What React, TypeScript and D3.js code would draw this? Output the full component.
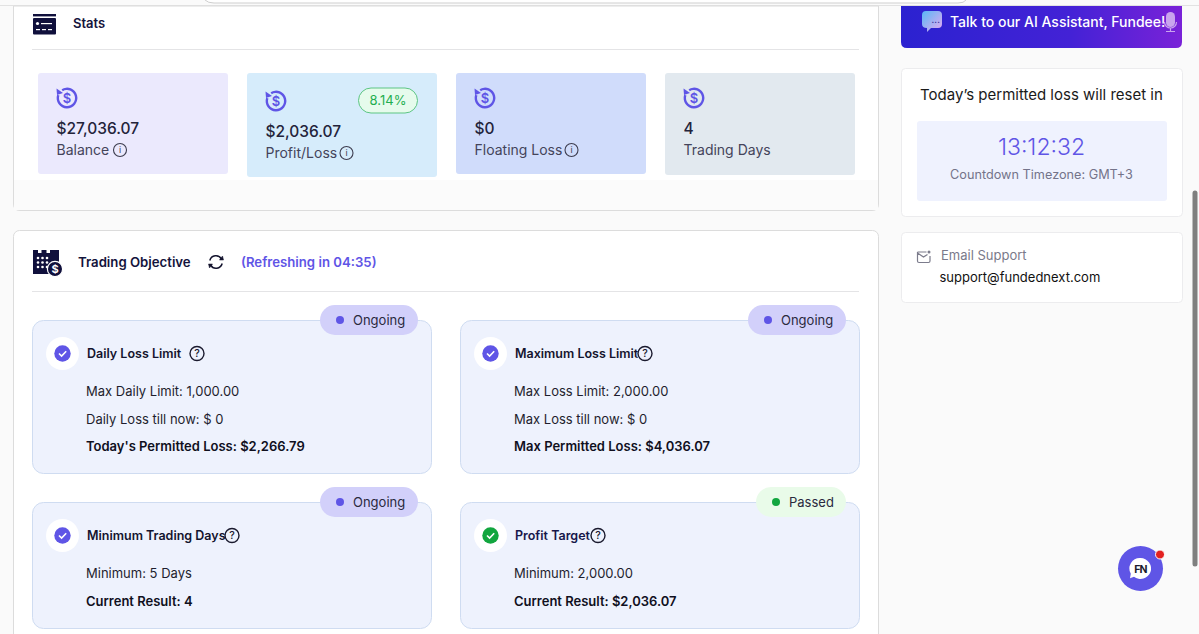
import * as d3 from 'd3'

const FONT = 'Inter, sans-serif'
const INK = '#14143c'
const VIOLET = '#5f55e6'
const GREEN = '#12a63f'

// stat tiles
const statLabels = ['Balance', 'Profit/Loss', 'Floating Loss', 'Trading Days']
const statValues = ['$27,036.07', '$2,036.07', '$0', '4']
const statFills = ['#ebe9fd', '#d6ecfb', '#d0dcfb', '#e2e9ef']
const statHeights = [101, 104, 101, 102]
const statDy = [0, 3, 0, 0]
const statHasInfo = [true, true, true, false]
const profitPct = '8.14%'

// objective cards
const objTitles = ['Daily Loss Limit', 'Maximum Loss Limit', 'Minimum Trading Days', 'Profit Target']
const objStatus = ['Ongoing', 'Ongoing', 'Ongoing', 'Passed']
const objLines = [
  ['Max Daily Limit: 1,000.00', 'Daily Loss till now: $ 0'],
  ['Max Loss Limit: 2,000.00', 'Max Loss till now: $ 0'],
  ['Minimum: 5 Days'],
  ['Minimum: 2,000.00'],
]
const objBold = ["Today's Permitted Loss: $2,266.79", 'Max Permitted Loss: $4,036.07', 'Current Result: 4', 'Current Result: $2,036.07']
const objHeights = [154, 154, 127, 127]

const statX = d3.scalePoint<number>().domain([0, 1, 2, 3]).range([38, 665])
const objX = d3.scalePoint<number>().domain([0, 1]).range([32, 460])
const objY = d3.scalePoint<number>().domain([0, 1]).range([320, 502])

const arc = d3.arc()

function InfoIcon({ x, y, r = 6.5, q = false }: { x: number; y: number; r?: number; q?: boolean }) {
  return (
    <g transform={`translate(${x},${y})`}>
      <circle r={r} fill="none" stroke={q ? '#1a1a2e' : '#3c3c4e'} strokeWidth={q ? 1.4 : 1.1} />
      {q
        ? <text y={3.6} textAnchor="middle" fontSize={10.5} fontWeight={500} fill="#1a1a2e" fontFamily={FONT}>?</text>
        : <text y={3.4} textAnchor="middle" fontSize={9} fill="#3c3c4e" fontFamily={FONT}>i</text>}
    </g>
  )
}

function DollarIcon({ x, y }: { x: number; y: number }) {
  const ring = arc({ innerRadius: 8, outerRadius: 10.4, startAngle: -0.55, endAngle: Math.PI * 2 - 1.25 } as any) as string
  return (
    <g transform={`translate(${x},${y})`}>
      <path d={ring} fill={VIOLET} />
      <path d="M-10.5,-9.5 L-10,-3 L-4,-5 Z" fill={VIOLET} />
      <text y={4.6} textAnchor="middle" fontSize={13} fontWeight={600} fill={VIOLET} fontFamily={FONT}>$</text>
    </g>
  )
}

function StatTile({ i }: { i: number }) {
  const x = statX(i) as number
  const y = 73
  const dy = statDy[i]
  return (
    <g>
      <rect x={x} y={y} width={190} height={statHeights[i]} rx={3} fill={statFills[i]} />
      <DollarIcon x={x + 29} y={y + 25 + dy} />
      <text x={x + 18.5} y={y + 61 + dy} fontSize={15.5} fontWeight={500} fill="#23233a">{statValues[i]}</text>
      <text x={x + 18.5} y={y + 82 + dy} fontSize={14} fill="#44445a">{statLabels[i]}</text>
      {statHasInfo[i] && (
        <InfoIcon x={x + 18.5 + (i === 0 ? 63.5 : i === 1 ? 81 : 97)} y={y + 77 + dy} />
      )}
    </g>
  )
}

function ObjectiveCard({ i }: { i: number }) {
  const x = objX(i % 2) as number
  const y = objY(i < 2 ? 0 : 1) as number
  const passed = objStatus[i] === 'Passed'
  const pillW = passed ? 90 : 98
  const pillX = x + 386 - pillW
  const titleFill = i === 3 ? '#17174a' : '#14142e'
  const titleW = [102, 122, 137, 75][i]
  return (
    <g>
      <rect x={x + 0.5} y={y + 0.5} width={399} height={objHeights[i] - 1} rx={11} fill="#eef2fd" stroke="#cfdcf1" />
      <rect x={pillX} y={y - 15} width={pillW} height={30} rx={15} fill={passed ? '#e9fbe9' : '#d2d0fa'} />
      <circle cx={pillX + 20} cy={y} r={4} fill={passed ? GREEN : VIOLET} />
      <text x={pillX + 33} y={y + 4.7} fontSize={13} fill="#2a2a3e">{objStatus[i]}</text>
      <circle cx={x + 30.5} cy={y + 33.5} r={16.5} fill="#fff" />
      <circle cx={x + 30.5} cy={y + 33.5} r={8.2} fill={passed ? GREEN : VIOLET} />
      <path d={`M${x + 27},${y + 33.5} l2.6,2.6 l4.6,-4.8`} fill="none" stroke="#fff" strokeWidth={1.6} />
      <text x={x + 55} y={y + 38} fontSize={12.5} fontWeight={600} fill={titleFill}>{objTitles[i]}</text>
      <InfoIcon x={x + 55 + titleW + 8} y={y + 33.5} r={7} q />
      {objLines[i].map((t, k) => (
        <text key={t} x={x + 54} y={y + 76 + k * 28} fontSize={13} fill="#1e1e2e">{t}</text>
      ))}
      <text x={x + 54} y={y + 76 + objLines[i].length * 27.5} fontSize={13} fontWeight={600} fill="#10101e">{objBold[i]}</text>
    </g>
  )
}

export default function App() {
  return (
    <svg width={1199} height={634} fontFamily={FONT} style={{ position: 'fixed', left: 0, top: 0, display: 'block', background: '#fafafa' }}>
      <defs>
        <linearGradient id="talk" x1="0" x2="1" y1="0" y2="0">
          <stop offset="0" stopColor="#2b22d0" />
          <stop offset="0.6" stopColor="#4322d6" />
          <stop offset="1" stopColor="#7a22d8" />
        </linearGradient>
        <linearGradient id="bubble" x1="0" x2="1" y1="0" y2="1">
          <stop offset="0" stopColor="#58b8f5" />
          <stop offset="1" stopColor="#e8a8f0" />
        </linearGradient>
      </defs>

      {/* window top edges */}
      <path d="M205,0 Q208,3 214,3 L958,3 Q964,3 966,0" fill="#fff" stroke="#cfcfcf" />
      <line x1={0} x2={1199} y1={5.5} y2={5.5} stroke="#e2e2e2" />

      {/* stats card */}
      <path d="M13.5,6 L13.5,204 Q13.5,210.5 20,210.5 L872,210.5 Q878.5,210.5 878.5,204 L878.5,6 Z" fill="#fff" stroke="#dcdcdc" />
      <rect x={14} y={180} width={864} height={30} fill="#fbfbfb" />
      <g transform="translate(33,14)" fill="#10103c">
        <rect x={0} y={0} width={23} height={2.4} />
        <rect x={0} y={4} width={23} height={16.5} rx={1} />
        <circle cx={4.5} cy={9.5} r={1.6} fill="#fff" />
        <rect x={8} y={9} width={11} height={1.2} fill="#fff" />
        <rect x={3} y={15} width={4} height={1.2} fill="#fff" />
        <rect x={9} y={15} width={4} height={1.2} fill="#fff" />
        <rect x={15} y={15} width={4} height={1.2} fill="#fff" />
      </g>
      <text x={73} y={28} fontSize={13} fontWeight={600} fill={INK}>Stats</text>
      <line x1={32} x2={859} y1={49.5} y2={49.5} stroke="#e4e4e6" />
      {statLabels.map((_, i) => <StatTile key={i} i={i} />)}
      <rect x={358.5} y={88} width={59} height={25} rx={12.5} fill="#e6fbec" stroke="#5cc583" />
      <text x={388} y={105} textAnchor="middle" fontSize={13} fill="#1fae4f">{profitPct}</text>

      {/* trading objective card */}
      <rect x={13.5} y={230.5} width={865} height={420} rx={6} fill="#fff" stroke="#dcdcdc" />
      <g transform="translate(33,250)" fill="#10103c">
        <path d="M0,0 h5 v3 h3.5 v-3 h5 v3 h3.5 v-3 h9 v24 h-26 Z" />
        {[0, 1, 2].map(r => [0, 1, 2].map(c => (
          <circle key={`${r}${c}`} cx={5 + c * 4.5} cy={8 + r * 4.5} r={1.3} fill="#fff" />
        )))}
        <circle cx={22} cy={19} r={7.6} stroke="#fff" strokeWidth={1.2} />
        <text x={22} y={23.2} textAnchor="middle" fontSize={11} fontWeight={700} fill="#fff">$</text>
      </g>
      <text x={78} y={267} fontSize={13.2} fontWeight={600} fill={INK}>Trading Objective</text>
      <g transform="translate(216,262)" fill="none" stroke="#14142e" strokeWidth={1.5}>
        <path d="M-6.2,-1.5 A6.4,6.4 0 0 1 5.5,-3" />
        <path d="M6.2,1.5 A6.4,6.4 0 0 1 -5.5,3" />
        <path d="M3.5,-2 L7.5,-2 L6.5,-6 Z" fill="#14142e" strokeWidth={0.5} />
        <path d="M-3.5,2 L-7.5,2 L-6.5,6 Z" fill="#14142e" strokeWidth={0.5} />
      </g>
      <text x={241} y={267} fontSize={13.2} fontWeight={600} fill={VIOLET}>(Refreshing in 04:35)</text>
      <line x1={32} x2={859} y1={291.5} y2={291.5} stroke="#e4e4e6" />
      {objTitles.map((_, i) => <ObjectiveCard key={i} i={i} />)}

      {/* right column */}
      <path d="M901,6 H1182 V42 Q1182,48 1176,48 H907 Q901,48 901,42 Z" fill="url(#talk)" />
      <path d="M926,11 h12 q4,0 4,4 v9 q0,4 -4,4 h-7 l-4,4 v-4 q-5,0 -5,-4 v-9 q0,-4 4,-4 Z" fill="url(#bubble)" />
      <text x={931.5} y={23} fontSize={8} fontWeight={700} fill="#23238a" letterSpacing={0.2}>...</text>
      <text x={950} y={26.5} fontSize={14} fontWeight={500} fill="#fff">Talk to our AI Assistant, Fundee!</text>
      <rect x={1166} y={12} width={9} height={15} rx={4.5} fill="#c9a4ee" />
      <path d="M1164.5,22 a6,6 0 0 0 12,0 M1170.5,28 v3 M1166,31.5 h9" fill="none" stroke="#c9a4ee" strokeWidth={1.2} />

      <rect x={901.5} y={68.5} width={281} height={148} rx={4} fill="#fff" stroke="#ececee" />
      <text x={1041.5} y={100} textAnchor="middle" fontSize={15} fill="#1a1a1a">Today’s permitted loss will reset in</text>
      <rect x={917} y={121} width={250} height={80} rx={3} fill="#eff2fe" />
      <text x={1041.5} y={155} textAnchor="middle" fontSize={23} fontWeight={300} fill={VIOLET}>13:12:32</text>
      <text x={1041.5} y={179} textAnchor="middle" fontSize={12.7} fill="#74748a">Countdown Timezone: GMT+3</text>

      <rect x={901.5} y={232.5} width={281} height={70} rx={4} fill="#fff" stroke="#ececee" />
      <path d="M917.5,252 h9 M930,256 v5 q0,1.5 -1.5,1.5 h-9.5 q-1.5,0 -1.5,-1.5 v-9 M917.5,253 l6,4 l4,-2.6" fill="none" stroke="#7c7c8c" strokeWidth={1.2} />
      <circle cx={929} cy={252} r={1.5} fill="#7c7c8c" />
      <text x={941} y={260} fontSize={13} fill="#7a7a8a">Email Support</text>
      <text x={939.5} y={282} fontSize={13} fill="#111">support@fundednext.com</text>

      {/* scrollbar */}
      <line x1={1195} x2={1195} y1={193} y2={564} stroke="#7f7f7f" strokeWidth={5} strokeLinecap="round" />

      {/* chat launcher */}
      <circle cx={1140.5} cy={568.5} r={22.5} fill={VIOLET} />
      <path d="M1140.5,558 a10.5,10.5 0 1 1 -6.5,18.7 l-4,1.6 l0.8,-4.6 a10.5,10.5 0 0 1 9.7,-15.7 Z" fill="#fff" />
      <text x={1140.5} y={572.5} textAnchor="middle" fontSize={10.5} fontWeight={700} fill="#1a1a2e" letterSpacing={-0.8}>FN</text>
      <circle cx={1160} cy={554.5} r={4.5} fill="#e32020" stroke="#fff" />
    </svg>
  )
}
